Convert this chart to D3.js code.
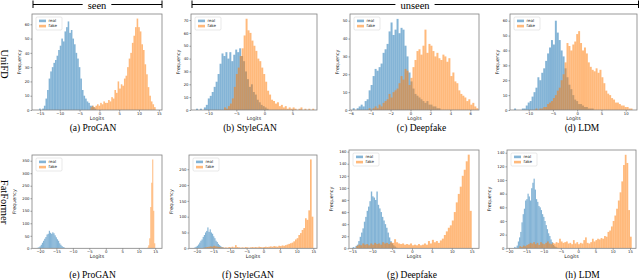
<!DOCTYPE html>
<html><head><meta charset="utf-8">
<script src="https://cdn.jsdelivr.net/npm/d3@7"></script>
<style>body{margin:0;background:#fff}svg{display:block}</style>
</head><body>
<script>
// ---------- DATA (histogram bin counts) ----------
const captions = ["(a) ProGAN","(b) StyleGAN","(c) Deepfake","(d) LDM","(e) ProGAN","(f) StyleGAN","(g) Deepfake","(h) LDM"];
const rowLabels = ["UniFD","FatFormer"];
const groupLabels = ["seen","unseen"];
const seriesNames = ["real","fake"];

// bin start & width for each panel [real, fake]
const binStart = [[-15.2,-2.2],[-12.2,-7.2],[-5.8,-4.2],[-13.0,-8.6],[-20.8,12.6],[-21.0,-18.0],[-14.9,-14.0],[-18.5,-17.0]];
const binWidth = [[0.4,0.4],[0.35,0.35],[0.2,0.2],[0.4,0.4],[0.35,0.3],[0.35,0.5],[0.35,0.5],[0.35,0.5]];

const realA = [1,0,1,3,8,14,22,27,30,33,35,38,42,45,50,48,55,58,62,54,56,50,46,40,36,30,22,14,10,8,6,5,3,3,2,1];
const fakeA = [2,3,2,3,4,3,5,4,6,5,5,7,6,9,8,14,12,20,15,18,17,22,24,30,36,40,47,52,58,64,58,55,46,42,32,25,16,10,6,4,2];
const realB = [1,0,1,0,2,4,9,11,14,18,22,28,36,44,42,45,40,45,38,43,47,45,48,42,38,30,24,18,20,14,12,8,6,4,3,2,1];
const fakeB = [2,1,3,5,9,18,28,33,42,48,58,71,62,60,54,50,46,40,38,33,28,22,15,12,8,7,5,6,3,4,2,3,1,2,1,2,1,0,1,2,0,1,0,1,0,1];
const realC = [1,0,1,2,3,2,5,6,11,14,19,23,22,24,26,32,34,37,44,49,42,45,51,43,46,45,36,30,21,16,12,9,8,7,6,5,4,5,3,3,2,2,1,1];
const fakeC = [1,0,1,2,1,3,2,4,5,6,9,7,10,11,12,15,19,17,23,22,14,18,24,28,33,34,31,36,45,32,37,36,33,30,32,29,28,31,30,27,29,19,21,16,15,11,9,8,7,5,6,3,4,2,1];
const realD = [1,0,0,0,1,1,3,5,6,9,12,15,22,20,25,28,33,38,42,47,44,60,52,47,40,36,28,22,17,14,10,7,6,4,4,3,2,2,1,1,1];
const fakeD = [1,0,1,1,2,2,4,5,6,8,10,13,15,20,24,32,45,43,40,44,46,51,53,45,40,42,38,32,29,27,26,28,25,27,22,18,13,11,10,8,7,5,5,4,3,3,2,2,1,1];
const realE = [2,4,8,14,22,30,38,45,55,58,70,62,58,64,60,52,44,36,30,20,14,9,5,3,1];
const fakeE = [3,12,40,165,262,355,150,20];
const realF = [1,3,5,8,12,18,24,28,36,42,50,55,66,52,60,50,46,38,32,24,20,14,10,7,4,3,1];
const fakeF = [2,3,4,5,6,5,8,6,5,4,3,3,2,3,2,4,3,5,3,10,4,3,2,3,2,4,3,2,3,4,3,4,3,5,4,3,4,5,4,5,6,5,7,6,5,8,7,9,8,10,12,14,16,18,22,28,32,42,48,58,64,95,90,120,281,100];
const realG = [2,1,4,6,12,19,26,33,44,52,62,69,78,94,86,84,80,94,72,66,60,52,46,40,34,26,18,12,8,5,3,1];
const fakeG = [4,6,5,8,6,7,5,8,6,9,7,8,6,10,8,9,7,10,9,15,10,8,7,8,6,7,6,8,5,6,5,7,5,6,8,6,12,8,14,10,12,9,13,16,22,28,34,38,46,60,76,90,102,120,130,144,155,62];
const realH = [2,1,4,10,16,24,38,50,58,70,72,80,76,70,88,96,102,86,72,68,62,60,56,50,46,40,34,28,22,18,13,9,5,3,2,1];
const fakeH = [3,2,4,3,5,6,8,7,9,6,8,5,9,7,6,8,10,7,6,8,7,9,8,14,10,8,9,10,7,8,6,12,7,9,6,8,7,12,16,8,7,9,14,10,12,14,13,15,14,18,17,24,26,32,40,48,58,70,82,98,122,137,125,56,17];

const realSeries = [realA,realB,realC,realD,realE,realF,realG,realH];
const fakeSeries = [fakeA,fakeB,fakeC,fakeD,fakeE,fakeF,fakeG,fakeH];

const xTickVals = [[-15,-10,-5,0,5,10,15],[-10,-5,0,5],[-6,-4,-2,0,2,4,6],[-10,-5,0,5,10],
  [-20,-15,-10,-5,0,5,10,15],[-20,-15,-10,-5,0,5,10,15],[-15,-10,-5,0,5,10,15],[-20,-15,-10,-5,0,5,10,15]];
const yTickVals = [[0,10,20,30,40,50,60],[0,10,20,30,40,50,60,70],[0,10,20,30,40,50],[0,10,20,30,40,50,60],
  [0,50,100,150,200,250,300,350],[0,50,100,150,200,250],[0,20,40,60,80,100,120,140,160],[0,20,40,60,80,100,120,140]];

// ---------- LAYOUT ----------
const layout = [
  {x0:32,x1:162,y0:14,y1:110,xd:[-17,15.8],yd:[0,67.2],cx:93,cy:131},
  {x0:191,x1:317,y0:14,y1:110,xd:[-13.1,9.4],yd:[0,74.7],cx:250,cy:131},
  {x0:350,x1:479,y0:14,y1:110,xd:[-6.07,6.87],yd:[0,53.75],cx:421.5,cy:131},
  {x0:510,x1:637,y0:14,y1:110,xd:[-13.85,12.33],yd:[0,64.5],cx:582,cy:131},
  {x0:32,x1:162,y0:155,y1:248.3,xd:[-22.4,17.05],yd:[0,372.8],cx:92.5,cy:278},
  {x0:189,x1:317,y0:155,y1:248.3,xd:[-22.3,16.1],yd:[0,295],cx:248,cy:278},
  {x0:349,x1:479,y0:150,y1:248.3,xd:[-15.83,16.83],yd:[0,162.7],cx:412,cy:278},
  {x0:507,x1:636,y0:150,y1:248.3,xd:[-20.58,16.74],yd:[0,144],cx:582.5,cy:278}
];
const colors = {real:"rgba(31,119,180,0.55)", fake:"rgba(255,127,14,0.55)"};
const serif = "'Liberation Serif','Times New Roman',serif";
const sans = "'DejaVu Sans',sans-serif";

const svg = d3.select("body").append("svg").attr("width",640).attr("height",280);

// group brackets
function bracket(xa, xb, label, tx){
  const g = svg.append("g");
  const t = g.append("text").attr("x",tx).attr("y",9).attr("text-anchor","middle")
    .attr("font-family",serif).attr("font-size",10.5).text(label);
  const bw = t.node().getComputedTextLength();
  const gap = 5;
  g.append("line").attr("x1",xa).attr("x2",tx-bw/2-gap).attr("y1",4.5).attr("y2",4.5).attr("stroke","#000").attr("stroke-width",1);
  g.append("line").attr("x1",tx+bw/2+gap).attr("x2",xb).attr("y1",4.5).attr("y2",4.5).attr("stroke","#000").attr("stroke-width",1);
  g.append("line").attr("x1",xa).attr("x2",xa).attr("y1",0.5).attr("y2",8).attr("stroke","#000").attr("stroke-width",1);
  g.append("line").attr("x1",xb).attr("x2",xb).attr("y1",0.5).attr("y2",8).attr("stroke","#000").attr("stroke-width",1);
}
bracket(33,162,groupLabels[0],97);
bracket(192,638.5,groupLabels[1],415);

// row labels
[[5,64],[5,202]].forEach((p,i)=>{
  svg.append("text").attr("transform",`translate(${p[0]},${p[1]}) rotate(90)`)
    .attr("text-anchor","middle").attr("dy","0.35em")
    .attr("font-family",serif).attr("font-size",10.5).text(rowLabels[i]);
});

layout.forEach((L,k)=>{
  const xs = d3.scaleLinear().domain(L.xd).range([L.x0,L.x1]);
  const ys = d3.scaleLinear().domain(L.yd).range([L.y1,L.y0]);
  const g = svg.append("g");
  const cid = "clip"+k;
  g.append("clipPath").attr("id",cid).append("rect")
    .attr("x",L.x0).attr("y",L.y0).attr("width",L.x1-L.x0).attr("height",L.y1-L.y0);
  const bars = g.append("g").attr("clip-path",`url(#${cid})`);
  [[realSeries[k],0,colors.real],[fakeSeries[k],1,colors.fake]].forEach(([arr,j,col])=>{
    const s0 = binStart[k][j], w = binWidth[k][j];
    bars.selectAll(null).data(arr).enter().append("rect")
      .attr("x",(d,i)=>xs(s0+i*w))
      .attr("width",(d,i)=>Math.max(0,xs(s0+(i+1)*w)-xs(s0+i*w)))
      .attr("y",d=>ys(d))
      .attr("height",d=>ys(0)-ys(d))
      .attr("fill",col);
  });
  // axes
  const xa = g.append("g").attr("transform",`translate(0,${L.y1})`)
    .call(d3.axisBottom(xs).tickValues(xTickVals[k]).tickSize(1.5).tickPadding(1));
  const ya = g.append("g").attr("transform",`translate(${L.x0},0)`)
    .call(d3.axisLeft(ys).tickValues(yTickVals[k]).tickSize(1.5).tickPadding(1));
  [xa,ya].forEach(a=>{
    a.select(".domain").remove();
    a.selectAll("line").attr("stroke","#333").attr("stroke-width",0.5);
    a.selectAll("text").attr("font-family",sans).attr("font-size",3.8).attr("fill","#222");
  });
  // frame
  g.append("rect").attr("x",L.x0).attr("y",L.y0).attr("width",L.x1-L.x0).attr("height",L.y1-L.y0)
    .attr("fill","none").attr("stroke","#808080").attr("stroke-width",0.8);
  // axis titles
  g.append("text").attr("x",(L.x0+L.x1)/2).attr("y",L.y1+10).attr("text-anchor","middle")
    .attr("font-family",sans).attr("font-size",4.8).attr("fill","#222").text("Logits");
  const fx = k<4 ? L.x0-11 : L.x0-16.5;
  g.append("text").attr("transform",`translate(${fx},${(L.y0+L.y1)/2}) rotate(-90)`)
    .attr("text-anchor","middle").attr("font-family",sans).attr("font-size",4.8).attr("fill","#222").text("Frequency");
  // legend
  const lx = L.x0+4, ly = L.y0+3;
  const lg = g.append("g");
  lg.append("rect").attr("x",lx).attr("y",ly).attr("width",26).attr("height",13).attr("rx",1.2)
    .attr("fill","rgba(255,255,255,0.8)").attr("stroke","#d0d0d0").attr("stroke-width",0.5);
  seriesNames.forEach((n,i)=>{
    lg.append("rect").attr("x",lx+3).attr("y",ly+2.6+i*5.2).attr("width",7).attr("height",2.6).attr("fill",colors[n]);
    lg.append("text").attr("x",lx+12.5).attr("y",ly+5+i*5.2).attr("font-family",sans).attr("font-size",4)
      .attr("fill","#222").text(n);
  });
  // caption
  svg.append("text").attr("x",L.cx).attr("y",L.cy).attr("text-anchor","middle")
    .attr("font-family",serif).attr("font-size",9.5).text(captions[k]);
});
</script>
</body></html>
